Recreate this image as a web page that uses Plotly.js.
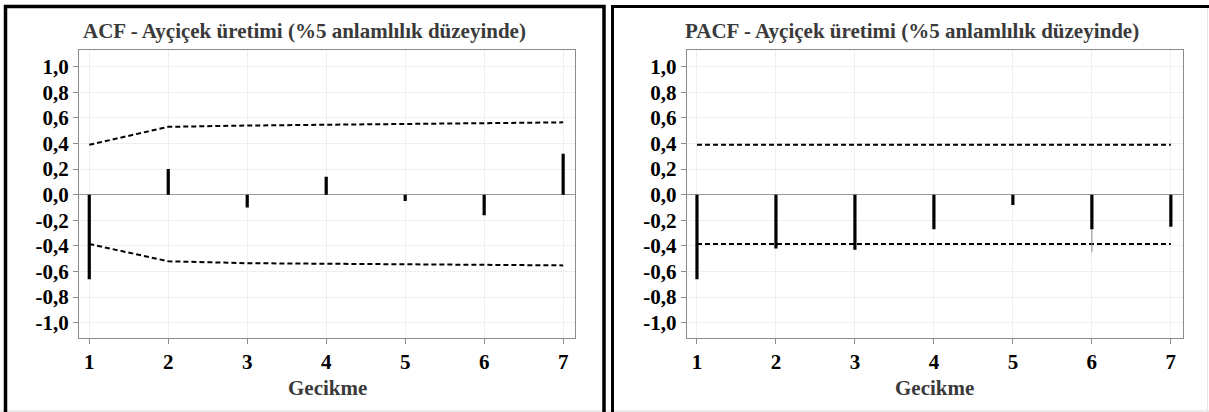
<!DOCTYPE html>
<html>
<head>
<meta charset="utf-8">
<script src="https://cdn.plot.ly/plotly-3.0.1.min.js"></script>
<style>
  html, body { margin: 0; padding: 0; background: #ffffff; }
  #chart { width: 1209px; height: 412px; }
</style>
</head>
<body>
<div id="chart"></div>
<script>
// ---- Data ----
const lags = [1, 2, 3, 4, 5, 6, 7];
const acfValues = [-0.66, 0.20, -0.10, 0.14, -0.05, -0.16, 0.32];
const acfUpper = [0.39, 0.53, 0.54, 0.545, 0.55, 0.555, 0.565];
const acfLower = [-0.385, -0.52, -0.535, -0.54, -0.545, -0.55, -0.552];
const pacfValues = [-0.66, -0.42, -0.43, -0.27, -0.08, -0.27, -0.25];
const pacfUpper = [0.39, 0.39, 0.39, 0.39, 0.39, 0.39, 0.39];
const pacfLower = [-0.385, -0.385, -0.385, -0.385, -0.385, -0.385, -0.385];
const pacfFaintLag = [6, 6];
const pacfFaintTail = [-0.27, -0.45];
const yTickVals = [-1.0, -0.8, -0.6, -0.4, -0.2, 0.0, 0.2, 0.4, 0.6, 0.8, 1.0];
const yTickText = ["-1,0", "-0,8", "-0,6", "-0,4", "-0,2", "0,0", "0,2", "0,4", "0,6", "0,8", "1,0"];
const xTickText = ["1", "2", "3", "4", "5", "6", "7"];
const titleAcf = "ACF - Ayçiçek üretimi (%5 anlamlılık düzeyinde)";
const titlePacf = "PACF - Ayçiçek üretimi (%5 anlamlılık düzeyinde)";
const xTitle = "Gecikme";

// ---- Helpers ----
function stems(xs, ys) {
  const sx = [], sy = [];
  xs.forEach((x, i) => { sx.push(x, x, null); sy.push(0, ys[i], null); });
  return { x: sx, y: sy };
}

const W = 1209, H = 412;
const px = v => v / W;
const py = v => 1 - v / H;

const serif = "Liberation Serif";
const dashStyle = { color: "#000000", width: 2, dash: "5px,3px" };

const s1 = stems(lags, acfValues);
const s2 = stems(lags, pacfValues);

const traces = [
  { x: lags, y: acfUpper, xaxis: "x", yaxis: "y", mode: "lines", line: dashStyle, hoverinfo: "skip" },
  { x: lags, y: acfLower, xaxis: "x", yaxis: "y", mode: "lines", line: dashStyle, hoverinfo: "skip" },
  { x: s1.x, y: s1.y, xaxis: "x", yaxis: "y", mode: "lines", line: { color: "#000000", width: 3.2 }, hoverinfo: "skip" },
  { x: lags, y: pacfUpper, xaxis: "x2", yaxis: "y2", mode: "lines", line: dashStyle, hoverinfo: "skip" },
  { x: lags, y: pacfLower, xaxis: "x2", yaxis: "y2", mode: "lines", line: dashStyle, hoverinfo: "skip" },
  { x: pacfFaintLag, y: pacfFaintTail, xaxis: "x2", yaxis: "y2", mode: "lines", line: { color: "#8a8a8a", width: 1 }, hoverinfo: "skip" },
  { x: s2.x, y: s2.y, xaxis: "x2", yaxis: "y2", mode: "lines", line: { color: "#000000", width: 3.2 }, hoverinfo: "skip" }
];

function xAxis(domain, anchor) {
  return {
    domain: domain, anchor: anchor, range: [0.87, 7.15],
    tickmode: "array", tickvals: lags, ticktext: xTickText,
    showgrid: true, gridcolor: "#efefef", gridwidth: 1,
    zeroline: false, showline: true, linecolor: "#8c8c8c", linewidth: 1, mirror: true,
    ticks: "outside", ticklen: 5, tickcolor: "#8c8c8c", tickwidth: 1,
    tickfont: { family: serif, size: 21, color: "#000000", weight: "bold" },
    fixedrange: true
  };
}
function yAxis(anchor) {
  return {
    domain: [0.1803, 0.8786], anchor: anchor, range: [-1.117, 1.13],
    tickmode: "array", tickvals: yTickVals, ticktext: yTickText,
    showgrid: true, gridcolor: "#efefef", gridwidth: 1,
    zeroline: true, zerolinecolor: "#9a9a9a", zerolinewidth: 1,
    showline: true, linecolor: "#8c8c8c", linewidth: 1, mirror: true,
    ticks: "outside", ticklen: 5, tickcolor: "#8c8c8c", tickwidth: 1,
    tickfont: { family: serif, size: 21, color: "#000000", weight: "bold" },
    fixedrange: true
  };
}

const annFont = { family: serif, size: 21, color: "#3a3a3a", weight: "bold" };

const layout = {
  width: W, height: H,
  font: { family: serif },
  margin: { l: 0, r: 0, t: 0, b: 0, pad: 0 },
  paper_bgcolor: "#ffffff", plot_bgcolor: "#ffffff",
  showlegend: false,
  xaxis: xAxis([px(79), px(575)], "y"),
  yaxis: yAxis("x"),
  xaxis2: xAxis([px(686.7), px(1182.7)], "y2"),
  yaxis2: yAxis("x2"),
  annotations: [
    { text: titleAcf, xref: "paper", yref: "paper", x: px(304), y: py(31), xanchor: "center", yanchor: "middle", showarrow: false, font: annFont },
    { text: titlePacf, xref: "paper", yref: "paper", x: px(911.5), y: py(31), xanchor: "center", yanchor: "middle", showarrow: false, font: annFont },
    { text: xTitle, xref: "paper", yref: "paper", x: px(327), y: py(388), xanchor: "center", yanchor: "middle", showarrow: false, font: annFont },
    { text: xTitle, xref: "paper", yref: "paper", x: px(934.7), y: py(388), xanchor: "center", yanchor: "middle", showarrow: false, font: annFont }
  ],
  shapes: [
    { type: "line", xref: "paper", yref: "paper", x0: 0, x1: 1, y0: py(411), y1: py(411), line: { color: "#d9d9d9", width: 1 } },
    { type: "line", xref: "paper", yref: "paper", x0: px(1207.5), x1: px(1207.5), y0: py(8), y1: py(412), line: { color: "#e6e6e6", width: 1 } },
    { type: "rect", xref: "paper", yref: "paper", x0: px(5.5), x1: px(604), y0: py(430), y1: py(6.5), line: { color: "#000000", width: 3.5 } },
    { type: "rect", xref: "paper", yref: "paper", x0: px(612.5), x1: px(1230), y0: py(430), y1: py(6.5), line: { color: "#000000", width: 3 } }
  ]
};

Plotly.newPlot("chart", traces, layout, { displayModeBar: false, staticPlot: true });
</script>
</body>
</html>
